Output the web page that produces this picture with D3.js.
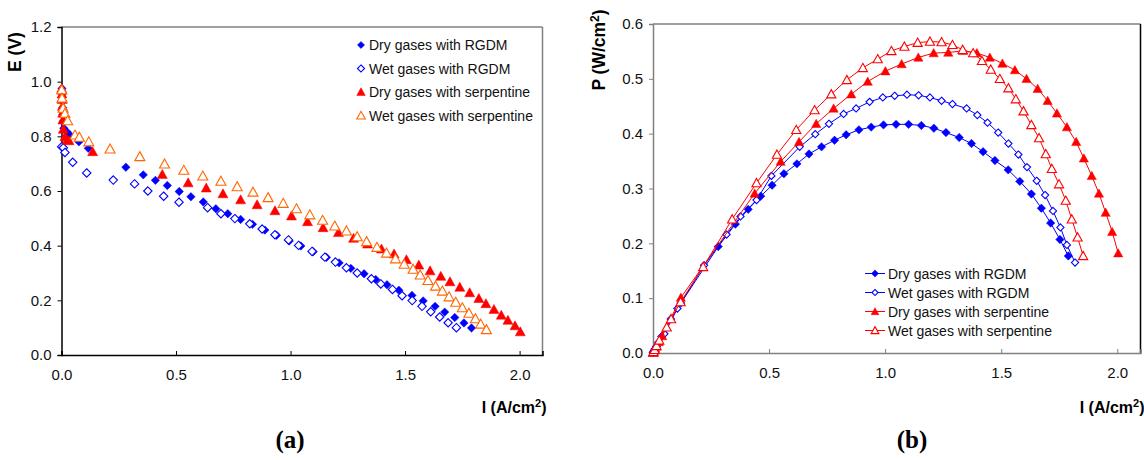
<!DOCTYPE html>
<html><head><meta charset="utf-8">
<script src="https://cdn.jsdelivr.net/npm/d3@7"></script>
<style>
body{margin:0;background:#fff;}
</style></head>
<body><svg id="c" width="1144" height="460" style="font-family:'Liberation Sans',Arial,sans-serif"></svg>
<script>
// ---------- Data: panel (a) E vs I ----------
const dryRgdmI_a = [0.002,0.003,0.004,0.005,0.006,0.008,0.010,0.023,0.037,0.076,0.117,0.281,0.357,0.410,0.462,0.514,0.565,0.619,0.674,0.726,0.782,0.834,0.888,0.939,0.994,1.045,1.099,1.157,1.212,1.263,1.321,1.372,1.421,1.473,1.530,1.579,1.631,1.673,1.717,1.757,1.790];
const dryRgdmE_a = [0.975,0.955,0.930,0.905,0.880,0.855,0.830,0.817,0.805,0.780,0.756,0.687,0.659,0.639,0.620,0.598,0.579,0.560,0.535,0.517,0.496,0.478,0.457,0.438,0.417,0.399,0.378,0.357,0.337,0.317,0.297,0.276,0.257,0.237,0.218,0.198,0.178,0.157,0.137,0.117,0.099];
const wetRgdmI_a = [0.001,0.008,0.015,0.049,0.110,0.226,0.319,0.377,0.446,0.513,0.638,0.696,0.757,0.822,0.876,0.932,0.991,1.035,1.094,1.150,1.196,1.244,1.291,1.353,1.394,1.445,1.487,1.531,1.574,1.612,1.651,1.688,1.724];
const wetRgdmE_a = [0.762,0.758,0.741,0.705,0.666,0.640,0.626,0.600,0.581,0.559,0.539,0.517,0.499,0.480,0.461,0.440,0.421,0.401,0.379,0.358,0.340,0.319,0.300,0.279,0.260,0.240,0.217,0.199,0.178,0.158,0.139,0.118,0.100];
const drySerpI_a = [0.001,0.002,0.003,0.004,0.005,0.006,0.008,0.015,0.025,0.033,0.136,0.440,0.553,0.632,0.705,0.782,0.854,0.932,1.004,1.074,1.142,1.209,1.275,1.336,1.397,1.452,1.506,1.560,1.609,1.656,1.696,1.739,1.782,1.822,1.853,1.888,1.920,1.949,1.980,2.003];
const drySerpE_a = [0.975,0.955,0.935,0.910,0.885,0.860,0.826,0.799,0.787,0.784,0.744,0.661,0.630,0.611,0.590,0.568,0.550,0.528,0.509,0.488,0.466,0.448,0.427,0.406,0.388,0.370,0.349,0.329,0.308,0.288,0.268,0.248,0.228,0.207,0.188,0.167,0.146,0.127,0.107,0.085];
const wetSerpI_a = [0.001,0.002,0.007,0.015,0.027,0.059,0.078,0.119,0.212,0.342,0.450,0.534,0.617,0.696,0.767,0.836,0.902,0.968,1.026,1.084,1.140,1.193,1.244,1.291,1.332,1.377,1.419,1.458,1.496,1.535,1.566,1.600,1.633,1.663,1.692,1.721,1.750,1.779,1.807,1.830,1.855];
const wetSerpE_a = [0.970,0.940,0.903,0.884,0.857,0.805,0.797,0.780,0.754,0.726,0.699,0.676,0.655,0.636,0.616,0.596,0.576,0.555,0.535,0.513,0.493,0.472,0.454,0.433,0.415,0.394,0.373,0.352,0.332,0.314,0.293,0.273,0.252,0.234,0.213,0.193,0.173,0.153,0.133,0.113,0.093];

// ---------- Data: panel (b) P vs I ----------
const dryRgdmI_b = [0.001,0.003,0.006,0.010,0.015,0.023,0.037,0.077,0.120,0.281,0.355,0.410,0.464,0.513,0.564,0.620,0.672,0.726,0.782,0.832,0.887,0.940,0.993,1.047,1.101,1.156,1.210,1.262,1.319,1.372,1.422,1.473,1.530,1.580,1.630,1.673,1.713,1.753,1.789];
const dryRgdmP_b = [0.001,0.003,0.005,0.008,0.012,0.019,0.030,0.062,0.091,0.194,0.235,0.262,0.286,0.306,0.327,0.345,0.363,0.376,0.388,0.398,0.407,0.412,0.416,0.417,0.417,0.415,0.410,0.402,0.393,0.382,0.367,0.351,0.334,0.313,0.290,0.264,0.237,0.207,0.177];
const wetRgdmI_b = [0.001,0.008,0.015,0.049,0.105,0.220,0.317,0.377,0.446,0.510,0.632,0.699,0.758,0.821,0.875,0.933,0.990,1.041,1.094,1.144,1.193,1.243,1.290,1.351,1.397,1.441,1.487,1.531,1.574,1.611,1.653,1.689,1.723,1.755,1.783,1.818];
const wetRgdmP_b = [0.001,0.006,0.011,0.035,0.081,0.160,0.216,0.249,0.279,0.323,0.376,0.399,0.418,0.436,0.446,0.458,0.466,0.469,0.471,0.470,0.466,0.460,0.454,0.446,0.434,0.420,0.402,0.382,0.362,0.339,0.314,0.288,0.259,0.229,0.197,0.165];
const drySerpI_b = [0.001,0.003,0.006,0.010,0.015,0.025,0.040,0.120,0.438,0.550,0.629,0.703,0.778,0.854,0.925,1.001,1.071,1.143,1.209,1.272,1.336,1.395,1.451,1.505,1.559,1.609,1.657,1.700,1.740,1.783,1.823,1.856,1.890,1.921,1.950,1.978,2.004];
const drySerpP_b = [0.001,0.003,0.005,0.008,0.012,0.020,0.031,0.101,0.291,0.349,0.385,0.418,0.446,0.472,0.495,0.514,0.527,0.539,0.547,0.548,0.551,0.547,0.539,0.528,0.516,0.500,0.482,0.460,0.437,0.412,0.385,0.355,0.323,0.291,0.256,0.221,0.182];
const wetSerpI_b = [0.001,0.002,0.007,0.015,0.027,0.059,0.078,0.119,0.216,0.341,0.446,0.534,0.617,0.696,0.768,0.835,0.904,0.968,1.027,1.083,1.140,1.193,1.243,1.290,1.334,1.379,1.417,1.455,1.494,1.531,1.563,1.596,1.630,1.663,1.692,1.718,1.749,1.778,1.804,1.829,1.853];
const wetSerpP_b = [0.001,0.002,0.006,0.013,0.023,0.047,0.062,0.093,0.157,0.244,0.310,0.362,0.407,0.443,0.472,0.498,0.520,0.536,0.551,0.559,0.566,0.568,0.567,0.562,0.553,0.547,0.533,0.517,0.500,0.483,0.463,0.441,0.416,0.392,0.363,0.336,0.308,0.278,0.244,0.211,0.177];

const seriesNames = ["Dry gases with RGDM","Wet gases with RGDM","Dry gases with serpentine","Wet gases with serpentine"];
const xTicks = [0,0.5,1.0,1.5,2.0];
const yTicksA = [0,0.2,0.4,0.6,0.8,1.0,1.2];
const yTicksB = [0,0.1,0.2,0.3,0.4,0.5,0.6];

// ---------- Drawing ----------
const svg = d3.select("#c");
const zip = (a,b)=>a.map((v,i)=>[v,b[i]]);
const SANS = "'Liberation Sans',Arial,sans-serif";
const SERIF = "'Liberation Serif','Times New Roman',serif";

function markerPath(shape, r){
  if(shape==="diamond") return `M0,${-r}L${r},0L0,${r}L${-r},0Z`;
  const h = r*1.8;
  return `M0,${-h*0.55}L${r},${h*0.45}L${-r},${h*0.45}Z`;
}

function panel(cfg){
  const g = svg.append("g");
  const x = d3.scaleLinear().domain([0,2.1]).range([cfg.x0,cfg.x1]);
  const y = d3.scaleLinear().domain([0,cfg.ymax]).range([cfg.y0,cfg.y1]);
  // frame
  g.append("line").attr("x1",cfg.x0).attr("x2",cfg.x1).attr("y1",cfg.y1).attr("y2",cfg.y1).attr("stroke","#808080").attr("stroke-width",1.5);
  g.append("line").attr("x1",cfg.x1).attr("x2",cfg.x1).attr("y1",cfg.y1).attr("y2",cfg.y0).attr("stroke",cfg.rightCol).attr("stroke-width",1.5);
  // axes
  const ax = g.append("g").attr("transform",`translate(0,${cfg.y0})`)
    .call(d3.axisBottom(x).tickValues(xTicks).tickSize(-4).tickPadding(14).tickFormat(d3.format(".1f")));
  const ay = g.append("g").attr("transform",`translate(${cfg.x0},0)`)
    .call(d3.axisLeft(y).tickValues(cfg.yTicks).tickSize(4).tickPadding(6).tickFormat(d3.format(".1f")));
  [ax,ay].forEach(a=>{
    a.attr("font-family",null).attr("font-size",null);
    a.select(".domain").attr("stroke",cfg.axisCol).attr("stroke-width",1.5);
    a.selectAll(".tick line").attr("stroke",cfg.axisCol).attr("stroke-width",1);
    a.selectAll("text").style("font-size","15px").style("font-family",SANS).attr("fill","#111");
  });
  // series
  cfg.series.forEach(s=>{
    const pts = zip(s.xs,s.ys);
    if(s.line){
      g.append("path").datum(pts).attr("fill","none").attr("stroke",s.color).attr("stroke-width",1)
        .attr("d",d3.line().x(d=>x(d[0])).y(d=>y(d[1])));
    }
    g.append("g").selectAll("path").data(pts).join("path")
      .attr("transform",d=>`translate(${x(d[0])},${y(d[1])})`)
      .attr("d",markerPath(s.shape,s.r))
      .attr("fill",s.filled?s.color:"#fff")
      .attr("stroke",s.color).attr("stroke-width",s.filled?0.5:1.1);
  });
  // legend
  const lg = g.append("g");
  cfg.series.forEach((s,i)=>{
    const yy = cfg.leg.y + i*cfg.leg.dy;
    if(cfg.leg.line){
      lg.append("line").attr("x1",cfg.leg.mx-10).attr("x2",cfg.leg.mx+10).attr("y1",yy).attr("y2",yy).attr("stroke",s.color).attr("stroke-width",1);
    }
    lg.append("path").attr("transform",`translate(${cfg.leg.mx},${yy})`).attr("d",markerPath(s.shape,s.r*0.85))
      .attr("fill",s.filled?s.color:"#fff").attr("stroke",s.color).attr("stroke-width",s.filled?0.5:1.1);
    lg.append("text").attr("x",cfg.leg.tx).attr("y",yy).attr("dy","0.36em").style("font-size","14px").style("font-family",SANS).attr("fill","#111").text(seriesNames[i]);
  });
  // titles
  g.append("text").attr("transform",`translate(${cfg.ylab.x},${cfg.ylab.y}) rotate(-90)`).attr("text-anchor","middle")
    .style("font-weight","bold").style("font-size","17.5px").style("font-family",SANS).attr("fill","#000").html(cfg.ylab.html);
  g.append("text").attr("x",cfg.x1+4).attr("y",cfg.xlabY).attr("text-anchor","end")
    .style("font-weight","bold").style("font-size","16px").style("font-family",SANS).attr("fill","#000").html('I (A/cm<tspan dy="-6" font-size="11">2</tspan><tspan dy="6">)</tspan>');
  g.append("text").attr("x",cfg.capX).attr("y",448).attr("text-anchor","middle")
    .style("font-family",SERIF).style("font-weight","bold").style("font-size","25px").attr("fill","#000").text(cfg.cap);
}

panel({
  x0:61.5,x1:542.5,y0:355,y1:27,ymax:1.2,yTicks:yTicksA,
  axisCol:"#000",rightCol:"#808080",
  ylab:{x:21,y:52,html:"E (V)"},xlabY:413,capX:290,cap:"(a)",
  leg:{mx:361,tx:369,y:45,dy:23.5,line:false},
  series:[
    {xs:dryRgdmI_a,ys:dryRgdmE_a,color:"#0000ff",shape:"diamond",filled:true,r:4.2,line:false},
    {xs:wetRgdmI_a,ys:wetRgdmE_a,color:"#0000ff",shape:"diamond",filled:false,r:4.2,line:false},
    {xs:drySerpI_a,ys:drySerpE_a,color:"#ff0000",shape:"triangle",filled:true,r:5,line:false},
    {xs:wetSerpI_a,ys:wetSerpE_a,color:"#ff6600",shape:"triangle",filled:false,r:5,line:false}
  ]
});
panel({
  x0:653,x1:1140.5,y0:353,y1:24,ymax:0.6,yTicks:yTicksB,
  axisCol:"#808080",rightCol:"#000",
  ylab:{x:605,y:50,html:'P (W/cm<tspan dy="-6" font-size="12">2</tspan><tspan dy="6">)</tspan>'},xlabY:413,capX:912,cap:"(b)",
  leg:{mx:875,tx:888,y:273.5,dy:19,line:true},
  series:[
    {xs:dryRgdmI_b,ys:dryRgdmP_b,color:"#0000ff",shape:"diamond",filled:true,r:4.2,line:true},
    {xs:wetRgdmI_b,ys:wetRgdmP_b,color:"#0000ff",shape:"diamond",filled:false,r:3.6,line:true},
    {xs:drySerpI_b,ys:drySerpP_b,color:"#ff0000",shape:"triangle",filled:true,r:4.6,line:true},
    {xs:wetSerpI_b,ys:wetSerpP_b,color:"#ff0000",shape:"triangle",filled:false,r:4.6,line:true}
  ]
});
</script></body></html>
